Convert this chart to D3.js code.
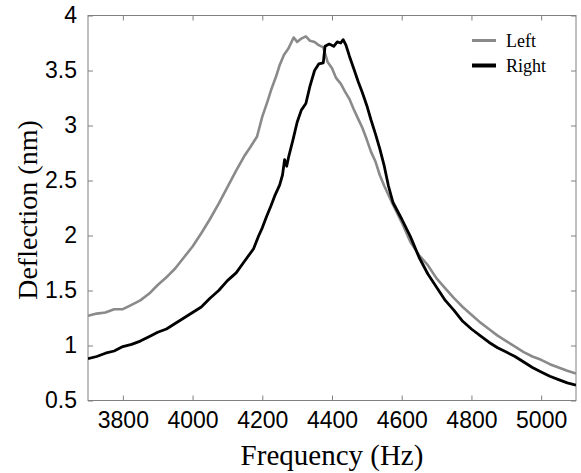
<!DOCTYPE html>
<html>
<head>
<meta charset="utf-8">
<script src="https://cdn.jsdelivr.net/npm/d3@7"></script>
<style>
  body { margin: 0; background: #fff; }
  .tick text { font-family: "Liberation Sans", Arial, sans-serif; font-size: 23px; fill: #000; }
</style>
</head>
<body>
<div id="chart"></div>
<script>
// Frequency (Hz) / deflection (nm)
var leftFreq = [3700, 3725, 3750, 3775, 3800, 3825, 3850, 3875, 3900, 3925, 3950, 3975, 4000, 4025, 4050, 4075, 4100, 4125,
    4150, 4165, 4175, 4185, 4200, 4215, 4225, 4240, 4250, 4262, 4275, 4290, 4300, 4312, 4325, 4337, 4350, 4362, 4375, 4387,
    4400, 4412, 4425, 4437, 4450, 4462, 4475, 4487, 4500, 4512, 4525, 4537, 4550, 4575, 4600, 4625, 4650, 4675, 4700, 4725,
    4750, 4775, 4800, 4825, 4850, 4875, 4900, 4925, 4950, 4975, 5000, 5025, 5050, 5075, 5100];
var leftDefl = [1.27, 1.29, 1.30, 1.33, 1.33, 1.37, 1.41, 1.47, 1.55, 1.62, 1.70, 1.80, 1.90, 2.02, 2.15, 2.29, 2.44, 2.59,
    2.73, 2.80, 2.85, 2.90, 3.08, 3.22, 3.32, 3.45, 3.55, 3.64, 3.70, 3.80, 3.76, 3.79, 3.81, 3.77, 3.76, 3.73, 3.71, 3.58,
    3.52, 3.43, 3.38, 3.31, 3.24, 3.15, 3.06, 2.98, 2.87, 2.76, 2.67, 2.55, 2.45, 2.28, 2.12, 1.94, 1.82, 1.73, 1.61, 1.52,
    1.43, 1.35, 1.28, 1.21, 1.15, 1.09, 1.04, 0.99, 0.94, 0.90, 0.87, 0.83, 0.80, 0.77, 0.745];

var rightFreq = [3700, 3725, 3750, 3775, 3800, 3825, 3850, 3875, 3900, 3925, 3950, 3975, 4000, 4025, 4050, 4075, 4100, 4125,
    4150, 4175, 4190, 4200, 4212, 4225, 4237, 4250, 4258, 4264, 4270, 4276, 4288, 4300, 4312, 4325, 4337, 4350, 4362, 4375,
    4380, 4392, 4405, 4415, 4425, 4432, 4440, 4450, 4462, 4475, 4487, 4500, 4512, 4525, 4537, 4550, 4562, 4575, 4600, 4625,
    4650, 4675, 4700, 4725, 4750, 4775, 4800, 4825, 4850, 4875, 4900, 4925, 4950, 4975, 5000, 5025, 5050, 5075, 5100];
var rightDefl = [0.88, 0.90, 0.93, 0.95, 0.99, 1.01, 1.04, 1.08, 1.12, 1.15, 1.20, 1.25, 1.30, 1.35, 1.43, 1.50, 1.59, 1.66,
    1.77, 1.88, 2.00, 2.07, 2.17, 2.27, 2.37, 2.46, 2.55, 2.69, 2.63, 2.72, 2.87, 3.03, 3.14, 3.20, 3.36, 3.50, 3.56, 3.57,
    3.72, 3.74, 3.72, 3.76, 3.75, 3.78, 3.73, 3.63, 3.52, 3.40, 3.30, 3.18, 3.05, 2.92, 2.79, 2.63, 2.45, 2.30, 2.15, 1.99,
    1.80, 1.65, 1.53, 1.41, 1.32, 1.22, 1.15, 1.09, 1.03, 0.98, 0.94, 0.90, 0.85, 0.80, 0.76, 0.72, 0.69, 0.66, 0.64];

var xTicks = [3800, 4000, 4200, 4400, 4600, 4800, 5000];
var yTicks = [0.5, 1, 1.5, 2, 2.5, 3, 3.5, 4];

var width = 581, height = 473;
var plot = { left: 88, right: 576, top: 15.5, bottom: 400.5 };

var svg = d3.select("#chart").append("svg")
    .attr("width", width)
    .attr("height", height);

var x = d3.scaleLinear().domain([3700, 5100]).range([plot.left, plot.right]);
var y = d3.scaleLinear().domain([0.5, 4]).range([plot.bottom, plot.top]);

svg.append("clipPath").attr("id", "clip")
    .append("rect")
    .attr("x", plot.left).attr("y", plot.top)
    .attr("width", plot.right - plot.left).attr("height", plot.bottom - plot.top);

// axes, ticks pointing inward
function styleAxis(g) {
    g.select(".domain").remove();
    g.selectAll(".tick line").attr("stroke", "#808080");
}
svg.append("g")
    .attr("transform", "translate(0," + plot.bottom + ")")
    .call(d3.axisBottom(x).tickValues(xTicks).tickFormat(d3.format("d")).tickSizeInner(-5).tickSizeOuter(0).tickPadding(11))
    .call(styleAxis);
svg.append("g")
    .attr("transform", "translate(0," + plot.top + ")")
    .call(d3.axisTop(x).tickValues(xTicks).tickFormat("").tickSizeInner(-5).tickSizeOuter(0))
    .call(styleAxis);
svg.append("g")
    .attr("transform", "translate(" + plot.left + ",0)")
    .call(d3.axisLeft(y).tickValues(yTicks).tickFormat(d => d).tickSizeInner(-5).tickSizeOuter(0).tickPadding(11))
    .call(styleAxis);
svg.append("g")
    .attr("transform", "translate(" + plot.right + ",0)")
    .call(d3.axisRight(y).tickValues(yTicks).tickFormat("").tickSizeInner(-5).tickSizeOuter(0))
    .call(styleAxis);

svg.append("rect")
    .attr("x", plot.left).attr("y", plot.top)
    .attr("width", plot.right - plot.left).attr("height", plot.bottom - plot.top)
    .attr("fill", "none")
    .attr("stroke", "#808080")
    .attr("stroke-width", 1);

// curves
var series = [
    { name: "Left", freq: leftFreq, defl: leftDefl, color: "#8a8a8a", w: 2.6 },
    { name: "Right", freq: rightFreq, defl: rightDefl, color: "#000", w: 2.8 }
];
var line = d3.line().x(d => x(d[0])).y(d => y(d[1]));

series.forEach(function (s) {
    svg.append("path")
        .datum(s.freq.map((f, i) => [f, s.defl[i]]))
        .attr("clip-path", "url(#clip)")
        .attr("fill", "none")
        .attr("stroke", s.color)
        .attr("stroke-width", s.w)
        .attr("stroke-linejoin", "round")
        .attr("d", line);
});

// legend
var legend = svg.append("g").attr("transform", "translate(472,40.5)");
series.forEach(function (s, i) {
    legend.append("line")
        .attr("x1", 0).attr("x2", 24)
        .attr("y1", i * 25).attr("y2", i * 25)
        .attr("stroke", s.color)
        .attr("stroke-width", i == 0 ? 3 : 4);
    legend.append("text")
        .attr("x", 34).attr("y", i * 25 + 6)
        .style("font-family", "'Liberation Serif', 'Times New Roman', serif")
        .style("font-size", "18px")
        .text(s.name);
});

// axis titles
svg.append("text")
    .attr("x", (plot.left + plot.right) / 2)
    .attr("y", 465)
    .attr("text-anchor", "middle")
    .style("font-family", "'Liberation Serif', 'Times New Roman', serif")
    .style("font-size", "29px")
    .text("Frequency (Hz)");
svg.append("text")
    .attr("transform", "translate(37," + ((plot.top + plot.bottom) / 2 + 2) + ") rotate(-90)")
    .attr("text-anchor", "middle")
    .style("font-family", "'Liberation Serif', 'Times New Roman', serif")
    .style("font-size", "28px")
    .text("Deflection (nm)");
</script>
</body>
</html>
